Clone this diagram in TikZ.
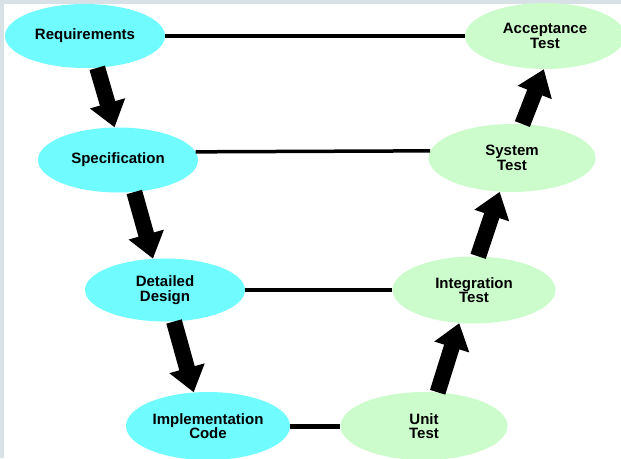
\documentclass[tikz,border=0pt]{standalone}
\usepackage{xcolor}
\usepackage{fontspec}
\setmainfont{Liberation Sans}
\usepackage{tikz}
\usetikzlibrary{shapes.geometric, arrows.meta, positioning}
\definecolor{mycyan}{RGB}{112,252,255}
\definecolor{mygreen}{RGB}{204,252,204}
\definecolor{myframe}{RGB}{216,226,230}
\definecolor{mydark}{RGB}{0,0,0}
\tikzset{
  phase/.style={ellipse, fill=mycyan, inner sep=0pt, align=center,
    minimum width=160pt, minimum height=64pt,
    font=\fontsize{15}{14.5}\selectfont\bfseries},
  testphase/.style={ellipse, fill=mygreen, inner sep=0pt, align=center,
    minimum width=164pt, minimum height=66pt,
    font=\fontsize{15}{14.5}\selectfont\bfseries},
  link/.style={line width=3.5pt, color=mydark},
  bigarrow/.style={-{Triangle[width=35pt, length=25pt]}, line width=16pt, color=mydark}
}

\begin{document}
\begin{tikzpicture}[x=1pt, y=-1pt]
  \useasboundingbox (0,0) rectangle (621,458);
  \clip (0,0) rectangle (621,458);

  % Frame
  \fill[white] (0,0) rectangle (621,458);
  \fill[myframe] (0,0) rectangle (621,4);
  \fill[myframe] (0,0) rectangle (3.5,458);

  % Left side of the V
  \node[phase] (req) at (85,36) {Requirements};
  \node[phase, minimum height=65pt] (spec) at (118,160) {Specification};
  \node[phase, minimum height=63pt] (des) at (165,290) {Detailed\\Design};
  \node[phase, minimum width=164pt, minimum height=68pt] (impl) at (208,426) {Implementation\\Code};

  % Right side of the V
  \node[testphase, minimum width=160pt] (acc) at (545,36) {Acceptance\\Test};
  \node[testphase, minimum width=167pt, minimum height=68pt] (sys) at (512,158) {System\\Test};
  \node[testphase, minimum width=163pt, minimum height=67pt] (integ) at (474,290) {Integration\\Test};
  \node[testphase, minimum width=167pt, minimum height=68pt] (unit) at (424,426) {Unit\\Test};

  % Links across
  \draw[link] (req.east) -- (acc.west);
  \draw[link] (spec.6) -- (sys.175);
  \draw[link] (des.east) -- (integ.west);
  \draw[link, line width=5pt] (impl.east) -- (unit.west);

  % Arrows down
  \draw[bigarrow] (req.-69) -- (spec.96);
  \draw[bigarrow] (spec.-63) -- (des.111);
  \draw[bigarrow] (des.-74) -- (impl.113);

  % Arrows up
  \draw[bigarrow] (unit.68) -- (integ.-114);
  \draw[bigarrow] (integ.83) -- (sys.-110);
  \draw[bigarrow] (sys.73) -- (acc.-92);

\end{tikzpicture}
\end{document}
